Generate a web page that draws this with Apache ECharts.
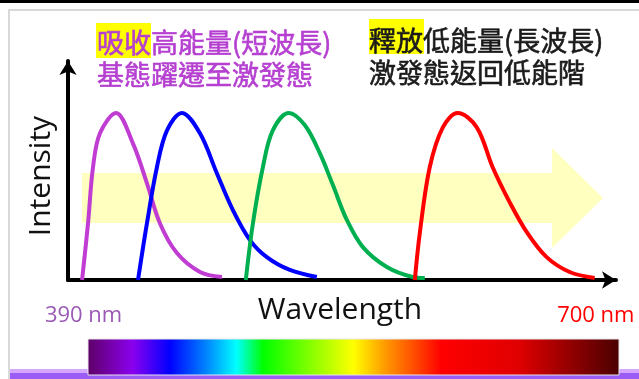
<!DOCTYPE html>
<html>
<head>
<meta charset="utf-8">
<script src="https://cdn.jsdelivr.net/npm/echarts@6/dist/echarts.min.js"></script>
<style>
html,body{margin:0;padding:0;background:#fff;}
#c{width:639px;height:379px;}
</style>
</head>
<body>
<div id="c"></div>
<script>
// Wavelength (nm) / relative intensity readings for each emission curve
var purpleX = [388.5, 392.1, 395.1, 399.3, 409.0, 419.2, 427.7, 435.5, 445.8, 459.7, 473.0];
var purpleY = [0, 0.34, 0.675, 0.878, 1.0, 0.818, 0.579, 0.34, 0.161, 0.048, 0.018];
var blueX = [422.3, 427.7, 433.7, 439.8, 448.8, 459.7, 469.9, 479.6, 489.9, 500.1, 514.0, 530.3];
var blueY = [0, 0.34, 0.675, 0.896, 1.0, 0.878, 0.639, 0.418, 0.239, 0.137, 0.060, 0.018];
var greenX = [487.4, 491.7, 497.7, 503.7, 513.4, 523.1, 532.1, 540.0, 548.4, 558.1, 572.6, 588.2, 595.5];
var greenY = [0, 0.34, 0.675, 0.896, 1.0, 0.926, 0.759, 0.568, 0.36, 0.197, 0.078, 0.018, 0.012];
var redX = [589.5, 592.5, 598.5, 606.4, 615.4, 626.9, 636.5, 646.8, 657.1, 669.1, 683.0, 698.1];
var redY = [0, 0.281, 0.675, 0.914, 1.0, 0.914, 0.675, 0.465, 0.287, 0.137, 0.048, 0.012];

var tickValues = [390, 700];
var tickLabels = ['390 nm', '700 nm'];
var axisNames = ['Wavelength', 'Intensity'];
var leftLines = ['吸收', '高能量(短波長)', '基態躍遷至激發態'];
var rightLines = ['釋放', '低能量(長波長)', '激發態返回低能階'];

function pairs(xs, ys) { return xs.map(function (x, i) { return [x, ys[i]]; }); }

var chart = echarts.init(document.getElementById('c'), null, {renderer: 'canvas'});
var LATIN = '"Open Sans", "Noto Sans", sans-serif';
var CJK = '"Noto Sans CJK TC", "Noto Sans CJK SC", sans-serif';

function curve(data, color) {
  return {
    type: 'line', data: data, smooth: 0.35, showSymbol: false, symbol: 'none',
    clip: false, z: 5, lineStyle: {color: color, width: 4}, silent: true
  };
}

chart.setOption({
  animation: false,
  backgroundColor: '#ffffff',
  grid: {left: 68, right: 23, top: 61, bottom: 99},
  xAxis: {
    type: 'value', min: 380, max: 711,
    axisLine: {show: true, lineStyle: {color: '#000', width: 4}, symbol: ['none', 'arrow'], symbolSize: [13, 14]},
    axisTick: {show: false}, axisLabel: {show: false}, splitLine: {show: false}
  },
  yAxis: {
    type: 'value', min: 0, max: 1.311,
    axisLine: {show: true, lineStyle: {color: '#000', width: 4}, symbol: ['none', 'arrow'], symbolSize: [13, 14]},
    axisTick: {show: false}, axisLabel: {show: false}, splitLine: {show: false}
  },
  series: [
    curve(pairs(purpleX, purpleY), '#C03CD2'),
    curve(pairs(blueX, blueY), '#0000FF'),
    curve(pairs(greenX, greenY), '#00B050'),
    curve(pairs(redX, redY), '#FF0000')
  ]
});

var p390 = chart.convertToPixel({gridIndex: 0}, [tickValues[0], 0]);
var p700 = chart.convertToPixel({gridIndex: 0}, [tickValues[1], 0]);

var spectrum = {
  type: 'linear', x: 0, y: 0, x2: 1, y2: 0,
  colorStops: [
    {offset: 0, color: '#5e0066'},
    {offset: 0.085, color: '#8a00ee'},
    {offset: 0.155, color: '#0000ff'},
    {offset: 0.225, color: '#0088ff'},
    {offset: 0.28, color: '#00ffff'},
    {offset: 0.33, color: '#00ff00'},
    {offset: 0.437, color: '#a0ff00'},
    {offset: 0.5, color: '#ffff00'},
    {offset: 0.56, color: '#ff9900'},
    {offset: 0.62, color: '#ff4400'},
    {offset: 0.665, color: '#ff0000'},
    {offset: 0.81, color: '#e00000'},
    {offset: 1, color: '#4a0000'}
  ]
};

var HF = '27px ' + CJK;
function head(x, y, text, color) {
  return {type: 'text', x: x, y: y, z: 10,
    style: {text: text, font: HF, fill: color, stroke: color, lineWidth: 0.6, verticalAlign: 'middle'}};
}
chart.setOption({
  graphic: [
    // frame
    {type: 'rect', shape: {x: 0, y: 0, width: 639, height: 3}, style: {fill: '#000'}, z: 0},
    {type: 'rect', shape: {x: 8, y: 9, width: 631, height: 2}, style: {fill: '#d9d9d9'}, z: 0},
    {type: 'rect', shape: {x: 8, y: 9, width: 2, height: 370}, style: {fill: '#d9d9d9'}, z: 0},
    {type: 'rect', shape: {x: 10, y: 369, width: 629, height: 4}, style: {fill: '#d4a6ff'}, z: 0},
    {type: 'rect', shape: {x: 10, y: 373, width: 629, height: 6}, style: {fill: '#9b5cf6'}, z: 0},
    // yellow arrow
    {type: 'polygon', shape: {points: [[82, 173], [552, 173], [552, 148], [603, 198], [552, 248], [552, 223], [82, 223]]},
      style: {fill: '#FFFFC0'}, z: 0},
    // spectrum bar
    {type: 'rect', shape: {x: 88, y: 339, width: 531, height: 36}, style: {fill: spectrum, stroke: '#e6e6e6', lineWidth: 1}, z: 1},
    // highlight boxes
    {type: 'rect', shape: {x: 96, y: 23, width: 55, height: 35}, style: {fill: '#FFFF00'}, z: 1},
    {type: 'rect', shape: {x: 369, y: 19, width: 55, height: 35}, style: {fill: '#FFFF00'}, z: 1},
    // headings
    head(97, 43, leftLines[0] + leftLines[1], '#B53FD0'),
    head(97, 75, leftLines[2], '#B53FD0'),
    head(369, 41, rightLines[0] + rightLines[1], '#1a1a1a'),
    head(369, 73, rightLines[2], '#1a1a1a'),
    // axis names
    {type: 'text', x: 340, y: 310, z: 10, style: {text: axisNames[0], font: '30px ' + LATIN, fill: '#111', align: 'center', verticalAlign: 'middle'}},
    {type: 'text', x: 41, y: 176, rotation: Math.PI / 2, z: 10, style: {text: axisNames[1], font: '30px ' + LATIN, fill: '#111', align: 'center', verticalAlign: 'middle'}},
    // end labels
    {type: 'text', x: p390[0] - 1, y: 316, z: 10, style: {text: tickLabels[0], font: '22px ' + LATIN, fill: '#9B59B6', align: 'center', verticalAlign: 'middle'}},
    {type: 'text', x: p700[0] - 2, y: 316, z: 10, style: {text: tickLabels[1], font: '22px ' + LATIN, fill: '#FF0000', align: 'center', verticalAlign: 'middle'}}
  ]
});
</script>
</body>
</html>
